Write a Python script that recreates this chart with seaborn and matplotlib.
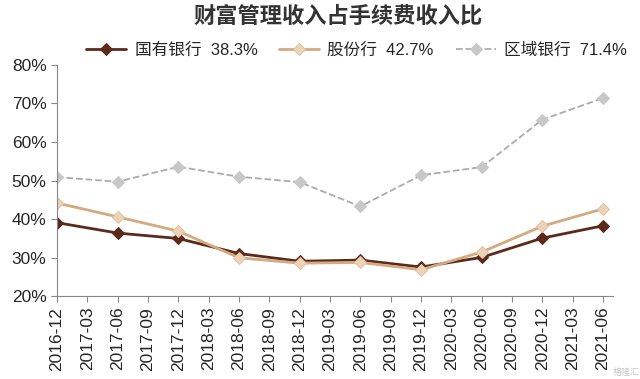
import pandas as pd
import seaborn as sns
import matplotlib.pyplot as plt
from matplotlib.ticker import PercentFormatter

# tick labels (quarterly), data is half-yearly
ticks = ['2016-12', '2017-03', '2017-06', '2017-09', '2017-12', '2018-03', '2018-06',
         '2018-09', '2018-12', '2019-03', '2019-06', '2019-09', '2019-12', '2020-03',
         '2020-06', '2020-09', '2020-12', '2021-03', '2021-06']
periods = ['2016-12', '2017-06', '2017-12', '2018-06', '2018-12',
           '2019-06', '2019-12', '2020-06', '2020-12', '2021-06']

state_banks = [39.1, 36.4, 35.0, 31.1, 29.1, 29.4, 27.6, 30.1, 35.1, 38.3]
joint_banks = [44.2, 40.6, 36.9, 30.0, 28.6, 28.8, 26.9, 31.5, 38.2, 42.7]
regional_banks = [50.9, 49.7, 53.6, 51.0, 49.6, 43.3, 51.4, 53.5, 65.8, 71.4]

names = ['国有银行', '股份行', '区域银行']

sns.set_style('ticks')
plt.rcParams['font.family'] = ['Liberation Sans', 'Noto Sans CJK SC']

dat = pd.DataFrame({'x': [ticks.index(p) for p in periods],
                    names[0]: state_banks, names[1]: joint_banks, names[2]: regional_banks})

fig = plt.figure(figsize=(6.4, 3.79), dpi=100)
ax = fig.add_axes([0.089, 0.218, 0.869, 0.611])

sns.lineplot(data=dat, x='x', y=names[0], ax=ax, color='#5b2a1c', lw=2,
             marker='D', markersize=6, markerfacecolor='#5b2a1c', markeredgecolor='#5b2a1c',
             label=f'{names[0]}  {state_banks[-1]}%')
sns.lineplot(data=dat, x='x', y=names[1], ax=ax, color='#d4aa80', lw=2,
             marker='D', markersize=6, markerfacecolor='#ecd3b8', markeredgecolor='#e2c3a2',
             label=f'{names[1]}  {joint_banks[-1]}%')
sns.lineplot(data=dat, x='x', y=names[2], ax=ax, color='#ababab', lw=1.3, linestyle='--',
             marker='D', markersize=6, markerfacecolor='#c8c8c8', markeredgecolor='#c8c8c8',
             label=f'{names[2]}  {regional_banks[-1]}%')

ax.set_xlim(0, 18.33)
ax.set_ylim(20, 80)
ax.set_xticks(range(len(ticks)))
ax.set_xticklabels(ticks, rotation=90, fontsize=12.5)
ax.set_yticks(range(20, 81, 10))
ax.yaxis.set_major_formatter(PercentFormatter(decimals=0))
ax.tick_params(axis='y', labelsize=12.5, length=4, color='#888888')
ax.tick_params(axis='x', length=4, color='#888888')
ax.set_xlabel('')
ax.set_ylabel('')
for s in ['top', 'right']:
    ax.spines[s].set_visible(False)
for s in ['left', 'bottom']:
    ax.spines[s].set_color('#888888')

ax.get_legend().remove()
h, l = ax.get_legend_handles_labels()
fig.legend(h, l, loc='center', bbox_to_anchor=(0.557, 0.868), ncol=3, frameon=False,
           fontsize=12, handlelength=2.4, columnspacing=1.3, handletextpad=0.5)

fig.text(0.528, 0.955, '财富管理收入占手续费收入比', ha='center', va='center',
         fontsize=16, fontweight='bold', color='#333333')
# watermark, kept clear of the tick labels
fig.text(0.999, 0.004, '格隆汇', ha='right', va='bottom', fontsize=6.5, color='#c8c8c8')

fig.savefig('out.png', dpi=100, facecolor='white')
